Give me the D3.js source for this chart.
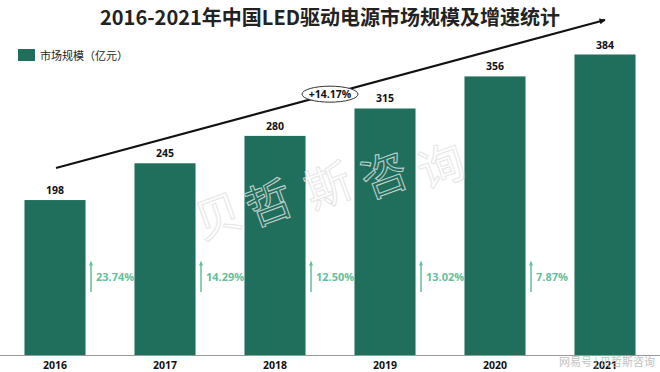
<!DOCTYPE html>
<html><head><meta charset="utf-8">
<script src="https://cdn.jsdelivr.net/npm/d3@7/dist/d3.min.js"></script>
<style>html,body{margin:0;padding:0;background:#fff;}svg{display:block;}</style>
</head><body>
<script>
const years = ["2016","2017","2018","2019","2020","2021"];
const marketSize = [198, 245, 280, 315, 356, 384];
const growthRates = ["23.74%","14.29%","12.50%","13.02%","7.87%"];
const cagrLabel = "+14.17%";
const title = "2016-2021年中国LED驱动电源市场规模及增速统计";
const legendLabel = "市场规模（亿元）";
const watermarkChars = ["贝","哲","斯","咨","询"];

const W = 660, H = 372;
const barColor = "#1f6f5c", growthColor = "#63bf9c";
const svg = d3.select("body").append("svg").attr("width", W).attr("height", H);

const defs = svg.append("defs");
defs.append("marker").attr("id","ah").attr("viewBox","0 0 10 10").attr("refX",9).attr("refY",5)
  .attr("markerWidth",8).attr("markerHeight",6).attr("markerUnits","userSpaceOnUse").attr("orient","auto")
  .append("path").attr("d","M0,0L10,5L0,10z").attr("fill","#111");
defs.append("marker").attr("id","gh").attr("viewBox","0 0 10 10").attr("refX",5).attr("refY",5)
  .attr("markerWidth",5).attr("markerHeight",6).attr("markerUnits","userSpaceOnUse").attr("orient","auto")
  .append("path").attr("d","M0,1L10,5L0,9z").attr("fill",growthColor);

const x = d3.scaleBand().domain(years).range([0, 660]).paddingInner(0.445).paddingOuter(0.2225);
const y = d3.scaleLinear().domain([0, 384]).range([355, 54.5]);
const bw = x.bandwidth();

// title
svg.append("text").attr("x", 330).attr("y", 25).attr("text-anchor","middle")
  .attr("font-family","'Noto Sans CJK SC', 'Noto Sans', sans-serif").attr("font-weight","bold")
  .attr("font-size",20).attr("fill","#222").text(title);

// legend
svg.append("rect").attr("x",18).attr("y",49).attr("width",17).attr("height",12).attr("fill",barColor);
svg.append("text").attr("x",40).attr("y",59.5).attr("font-family","'Noto Sans CJK SC', sans-serif")
  .attr("font-size",11).attr("fill","#222").text(legendLabel);

// bars
svg.selectAll("rect.bar").data(years).enter().append("rect").attr("class","bar")
  .attr("x", d => x(d)).attr("width", bw)
  .attr("y", (d,i) => y(marketSize[i])).attr("height", (d,i) => y(0) - y(marketSize[i]))
  .attr("fill", barColor);

// value labels
svg.selectAll("text.val").data(years).enter().append("text").attr("class","val")
  .attr("x", d => x(d) + bw/2).attr("y", (d,i) => y(marketSize[i]) - 6)
  .attr("text-anchor","middle").attr("font-family","'Open Sans', 'Noto Sans', sans-serif")
  .attr("font-weight","bold").attr("font-size",10.5).attr("fill","#111")
  .text((d,i) => marketSize[i]);

// watermark
const wm = svg.append("g").attr("pointer-events","none");
const wmPos = [[217,213],[268,200],[327,183],[383,172],[440,163]];
watermarkChars.forEach((c,i) => {
  wm.append("text").attr("transform", `translate(${wmPos[i][0]},${wmPos[i][1]}) rotate(-20)`)
    .attr("text-anchor","middle").attr("dominant-baseline","central")
    .attr("font-family","'Noto Sans CJK SC', sans-serif").attr("font-size",46)
    .attr("fill","none").attr("stroke","#e2e2e2").attr("stroke-width",1).attr("opacity",0.85).text(c);
});

// axis baseline
svg.append("line").attr("x1",0).attr("x2",W).attr("y1",y(0)+0.5).attr("y2",y(0)+0.5)
  .attr("stroke","#9a9a9a").attr("stroke-width",1);

// year labels
svg.selectAll("text.yr").data(years).enter().append("text").attr("class","yr")
  .attr("x", d => x(d) + bw/2).attr("y", 369).attr("text-anchor","middle")
  .attr("font-family","'Open Sans', 'Noto Sans', sans-serif").attr("font-weight","bold")
  .attr("font-size",10.5).attr("fill","#111").text(d => d);

// growth arrows
growthRates.forEach((g,i) => {
  const gx = x(years[i]) + bw + 5.5;
  svg.append("line").attr("x1",gx).attr("x2",gx).attr("y1",292).attr("y2",263)
    .attr("stroke",growthColor).attr("stroke-width",1.5).attr("marker-end","url(#gh)");
  svg.append("text").attr("x", gx + 5).attr("y", 280.5)
    .attr("font-family","'Open Sans', 'Noto Sans', sans-serif").attr("font-weight","bold")
    .attr("font-size",11).attr("fill",growthColor).text(g);
});

// trend arrow
const sx = x(years[0]) + bw/2 + 1, sy = y(marketSize[0]) - 32;
const ex = x(years[5]) + bw/2, ey = 20;
svg.append("line").attr("x1",sx).attr("y1",sy).attr("x2",ex).attr("y2",ey)
  .attr("stroke","#111").attr("stroke-width",2).attr("marker-end","url(#ah)");
const cx = 330, cy = sy + (ey - sy) * (cx - sx) / (ex - sx);
svg.append("ellipse").attr("cx",cx).attr("cy",cy).attr("rx",28).attr("ry",8)
  .attr("fill","#fff").attr("stroke","#333").attr("stroke-width",1);
svg.append("text").attr("x",cx).attr("y",cy+3.8).attr("text-anchor","middle")
  .attr("font-family","'Open Sans', 'Noto Sans', sans-serif").attr("font-weight","bold")
  .attr("font-size",10.5).attr("fill","#111").text(cagrLabel);

// source credit
svg.append("text").attr("x",655).attr("y",366).attr("text-anchor","end")
  .attr("font-family","'Noto Sans CJK SC', sans-serif").attr("font-size",11)
  .attr("fill","#bbb").attr("opacity",0.9).text("网易号 | 贝哲斯咨询");
</script>
</body></html>
